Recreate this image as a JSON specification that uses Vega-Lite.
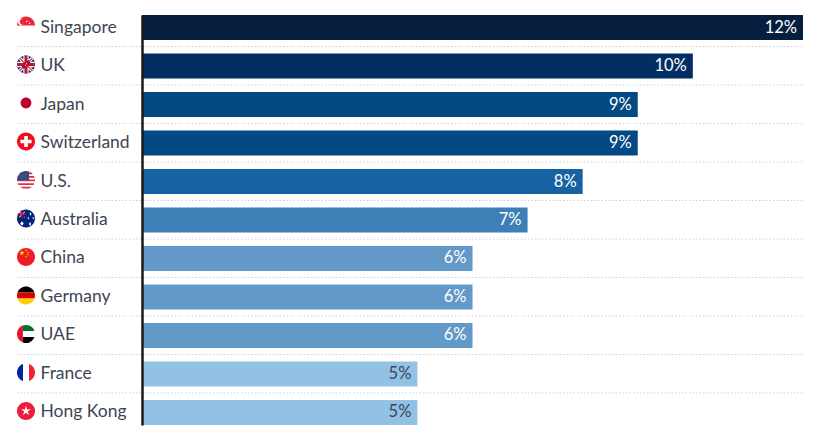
{"$schema":"https://vega.github.io/schema/vega-lite/v6.json","width":661,"height":410,"autosize":{"type":"none"},"padding":{"left":142,"top":15,"right":19,"bottom":15},"background":"white","view":{"stroke":null},
"data":{"values":[{"country":"Singapore","share":0.12},{"country":"UK","share":0.10},{"country":"Japan","share":0.09},{"country":"Switzerland","share":0.09},{"country":"U.S.","share":0.08},{"country":"Australia","share":0.07},{"country":"China","share":0.06},{"country":"Germany","share":0.06},{"country":"UAE","share":0.06},{"country":"France","share":0.05},{"country":"Hong Kong","share":0.05}]},
"layer":[
{"mark":{"type":"bar"},"encoding":{"y":{"field":"country","type":"nominal","title":null,"scale":{"domain":["Singapore","UK","Japan","Switzerland","U.S.","Australia","China","Germany","UAE","France","Hong Kong"],"paddingInner":0.3506,"paddingOuter":0},"axis":{"orient":"left","domainColor":"#1a1a1a","domainWidth":2.5,"ticks":false,"labelAlign":"left","labelPadding":102,"labelFont":"Lato","labelFontSize":17.5,"labelColor":"#3d4554","labelOffset":0,"grid":false,"zindex":1}},"x":{"field":"share","type":"quantitative","title":null,"scale":{"domain":[0,0.12]},"axis":null},"color":{"field":"share","type":"ordinal","legend":null,"scale":{"domain":[0.05,0.06,0.07,0.08,0.09,0.1,0.12],"range":["#92c1e6","#6299c8","#3f7fb8","#1762a3","#034a85","#032e63","#071f3f"]}}}},
{"transform":[{"filter":"datum.country!=='Hong Kong'"}],"mark":{"type":"rule","color":"#cfcfcf","strokeDash":[1.5,2],"strokeWidth":1,"yOffset":19},"encoding":{"y":{"field":"country","type":"nominal"},"x":{"datum":-0.02269},"x2":{"datum":0.12}}},
{"mark":{"type":"text","align":"right","dx":-6,"font":"Lato","fontSize":16.5,"baseline":"middle"},"encoding":{"y":{"field":"country","type":"nominal"},"x":{"field":"share","type":"quantitative"},"text":{"field":"share","type":"quantitative","format":".0%"},"color":{"condition":{"test":"datum.share===0.05","value":"#3d4554"},"value":"white"}}},
{"encoding":{"x":{"datum":-0.02106},"y":{"field":"country","type":"nominal"}},"layer":[
{"transform":[{"filter":{"field":"country","equal":"Singapore"}}],"layer":[
{"mark":{"type":"point","filled":true,"opacity":1,"size":324,"yOffset":-1.5,"color":"#ee2536","shape":"M-1,-.05A1,1 0 0 1 1,-.05Z"}},
{"mark":{"type":"point","filled":true,"opacity":1,"size":324,"yOffset":-1.5,"color":"#ffffff","shape":"M-.35,-.8A.38,.38 0 1 0 -.35,-.12A.32,.32 0 1 1 -.35,-.8ZM.1,-.6L.2,-.5L.1,-.4L0,-.5ZM.4,-.4L.5,-.3L.4,-.2L.3,-.3Z"}}]},
{"transform":[{"filter":{"field":"country","equal":"UK"}}],"layer":[
{"mark":{"type":"point","filled":true,"opacity":1,"size":324,"yOffset":-1.5,"color":"#012169","shape":"M-1,0A1,1 0 1 1 1,0A1,1 0 1 1 -1,0Z"}},
{"mark":{"type":"point","filled":true,"opacity":1,"size":324,"yOffset":-1.5,"color":"#ffffff","shape":"M-.82,-.57L-.57,-.82L.82,.57L.57,.82ZM.82,-.57L.57,-.82L-.82,.57L-.57,.82ZM-.3,-.954L.3,-.954L.3,-.3L.954,-.3L.954,.3L.3,.3L.3,.954L-.3,.954L-.3,.3L-.954,.3L-.954,-.3L-.3,-.3Z"}},
{"mark":{"type":"point","filled":true,"opacity":1,"size":324,"yOffset":-1.5,"color":"#c8102e","shape":"M-.75,-.68L-.68,-.75L.75,.68L.68,.75ZM.75,-.68L.68,-.75L-.75,.68L-.68,.75ZM-.17,-.985L.17,-.985L.17,-.17L.985,-.17L.985,.17L.17,.17L.17,.985L-.17,.985L-.17,.17L-.985,.17L-.985,-.17L-.17,-.17Z"}}]},
{"transform":[{"filter":{"field":"country","equal":"Japan"}}],"mark":{"type":"point","filled":true,"opacity":1,"size":324,"yOffset":-1.5,"color":"#bc002d","shape":"M-.6,0A.6,.6 0 1 1 .6,0A.6,.6 0 1 1 -.6,0Z"}},
{"transform":[{"filter":{"field":"country","equal":"Switzerland"}}],"layer":[
{"mark":{"type":"point","filled":true,"opacity":1,"size":324,"yOffset":-1.5,"color":"#f50a1e","shape":"M-1,0A1,1 0 1 1 1,0A1,1 0 1 1 -1,0Z"}},
{"mark":{"type":"point","filled":true,"opacity":1,"size":324,"yOffset":-1.5,"color":"#ffffff","shape":"M-.2,-.62L.2,-.62L.2,-.2L.62,-.2L.62,.2L.2,.2L.2,.62L-.2,.62L-.2,.2L-.62,.2L-.62,-.2L-.2,-.2Z"}}]},
{"transform":[{"filter":{"field":"country","equal":"U.S."}}],"layer":[
{"mark":{"type":"point","filled":true,"opacity":1,"size":324,"yOffset":-1.5,"color":"#d8354a","shape":"M-.527,-.85A1,1 0 0 0 -.76,-.65L.76,-.65A1,1 0 0 0 .527,-.85ZM-.893,-.45A1,1 0 0 0 -.968,-.25L.968,-.25A1,1 0 0 0 .893,-.45ZM-.999,-.05A1,1 0 0 0 -.989,.15L.989,.15A1,1 0 0 0 .999,-.05ZM-.937,.35A1,1 0 0 0 -.835,.55L.835,.55A1,1 0 0 0 .937,.35ZM-.661,.75A1,1 0 0 0 -.312,.95L.312,.95A1,1 0 0 0 .661,.75Z"}},
{"mark":{"type":"point","filled":true,"opacity":1,"size":324,"yOffset":-1.5,"color":"#3c4a7d","shape":"M.35,.05L-.999,.05A1,1 0 0 1 .35,-.937Z"}}]},
{"transform":[{"filter":{"field":"country","equal":"Australia"}}],"layer":[
{"mark":{"type":"point","filled":true,"opacity":1,"size":324,"yOffset":-1.5,"color":"#00247d","shape":"M-1,0A1,1 0 1 1 1,0A1,1 0 1 1 -1,0Z"}},
{"mark":{"type":"point","filled":true,"opacity":1,"size":324,"yOffset":-1.5,"color":"#ffffff","shape":"M-.14,-.1L-.1,-.14L-.78,-.7L-.7,-.78ZM-.1,-.72L-.16,-.78L-.78,-.16L-.72,-.1ZM.5,-.7L.6,-.5L.5,-.3L.4,-.5ZM.8,-.2L.88,-.05L.8,.1L.72,-.05ZM.25,-.2L.33,-.05L.25,.1L.17,-.05ZM.45,.4L.57,.62L.45,.84L.33,.62ZM-.45,.3L-.25,.55L-.45,.8L-.65,.55Z"}},
{"mark":{"type":"point","filled":true,"opacity":1,"size":324,"yOffset":-1.5,"color":"#e4002b","shape":"M-.52,-.95L-.38,-.95L-.38,-.52L-.02,-.52L-.02,-.38L-.38,-.38L-.38,-.02L-.52,-.02L-.52,-.38L-.95,-.38L-.95,-.52L-.52,-.52Z"}}]},
{"transform":[{"filter":{"field":"country","equal":"China"}}],"layer":[
{"mark":{"type":"point","filled":true,"opacity":1,"size":324,"yOffset":-1.5,"color":"#ee1c25","shape":"M-1,0A1,1 0 1 1 1,0A1,1 0 1 1 -1,0Z"}},
{"mark":{"type":"point","filled":true,"opacity":1,"size":324,"yOffset":-1.5,"color":"#ffde00","shape":"M-.45,-.75L-.382,-.543L-.165,-.543L-.341,-.414L-.274,-.207L-.45,-.335L-.626,-.207L-.559,-.414L-.735,-.543L-.518,-.543ZM0,-.85L.09,-.75L0,-.65L-.09,-.75ZM.22,-.6L.31,-.5L.22,-.4L.13,-.5ZM.22,-.35L.31,-.25L.22,-.15L.13,-.25ZM0,-.15L.09,-.05L0,.05L-.09,-.05Z"}}]},
{"transform":[{"filter":{"field":"country","equal":"Germany"}}],"layer":[
{"mark":{"type":"point","filled":true,"opacity":1,"size":324,"yOffset":-1.5,"color":"#000000","shape":"M-.943,-.333A1,1 0 0 1 .943,-.333Z"}},
{"mark":{"type":"point","filled":true,"opacity":1,"size":324,"yOffset":-1.5,"color":"#dd0000","shape":"M-.943,-.333A1,1 0 0 0 -.943,.333L.943,.333A1,1 0 0 0 .943,-.333Z"}},
{"mark":{"type":"point","filled":true,"opacity":1,"size":324,"yOffset":-1.5,"color":"#ffce00","shape":"M-.943,.333A1,1 0 0 0 .943,.333Z"}}]},
{"transform":[{"filter":{"field":"country","equal":"UAE"}}],"layer":[
{"mark":{"type":"point","filled":true,"opacity":1,"size":324,"yOffset":-1.5,"color":"#e8112d","shape":"M-.35,-.937A1,1 0 0 0 -.35,.937Z"}},
{"mark":{"type":"point","filled":true,"opacity":1,"size":324,"yOffset":-1.5,"color":"#00732f","shape":"M-.35,-.333L.943,-.333A1,1 0 0 0 -.35,-.937Z"}},
{"mark":{"type":"point","filled":true,"opacity":1,"size":324,"yOffset":-1.5,"color":"#000000","shape":"M-.35,.333L.943,.333A1,1 0 0 1 -.35,.937Z"}}]},
{"transform":[{"filter":{"field":"country","equal":"France"}}],"layer":[
{"mark":{"type":"point","filled":true,"opacity":1,"size":324,"yOffset":-1.5,"color":"#00209f","shape":"M-.333,-.943A1,1 0 0 0 -.333,.943Z"}},
{"mark":{"type":"point","filled":true,"opacity":1,"size":324,"yOffset":-1.5,"color":"#ee2436","shape":"M.333,-.943A1,1 0 0 1 .333,.943Z"}}]},
{"transform":[{"filter":{"field":"country","equal":"Hong Kong"}}],"layer":[
{"mark":{"type":"point","filled":true,"opacity":1,"size":324,"yOffset":-1.5,"color":"#ee1c3a","shape":"M-1,0A1,1 0 1 1 1,0A1,1 0 1 1 -1,0Z"}},
{"mark":{"type":"point","filled":true,"opacity":1,"size":324,"yOffset":-1.5,"color":"#ffffff","shape":"M0,-.6L.118,-.162L.571,-.185L.19,.062L.353,.485L0,.2L-.353,.485L-.19,.062L-.571,-.185L-.118,-.162Z"}}]}
]}
]}
